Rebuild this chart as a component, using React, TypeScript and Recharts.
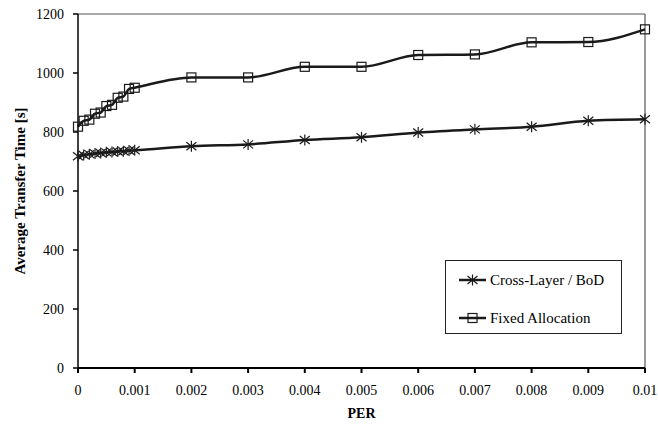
import React from "react";
import { LineChart, Line, XAxis, YAxis, ReferenceLine } from "recharts";

const per = [0, 0.0001, 0.0002, 0.0003, 0.0004, 0.0005, 0.0006, 0.0007, 0.0008, 0.0009, 0.001, 0.002, 0.003, 0.004, 0.005, 0.006, 0.007, 0.008, 0.009, 0.01];
const crossLayer = [718, 722, 725, 727, 729, 731, 732, 734, 735, 737, 738, 752, 758, 773, 782, 798, 809, 818, 838, 843];
const fixedAlloc = [818, 838, 842, 862, 866, 888, 892, 916, 920, 946, 950, 985, 985, 1021, 1021, 1061, 1063, 1104, 1105, 1148];
const xTicks = [0, 0.001, 0.002, 0.003, 0.004, 0.005, 0.006, 0.007, 0.008, 0.009, 0.01];
const yTicks = [0, 200, 400, 600, 800, 1000, 1200];
const seriesNames = ["Cross-Layer / BoD", "Fixed Allocation"];

const data = per.map((p, i) => ({ per: p, cross: crossLayer[i], fixed: fixedAlloc[i] }));

const FONT = "'Liberation Serif', 'Times New Roman', serif";
const INK = "#1a1a1a";

const StarDot = (props: any) => {
  const { cx, cy } = props;
  if (cx == null || cy == null) return null;
  return (
    <g stroke={INK} strokeWidth={1.2}>
      <line x1={cx - 5} y1={cy - 4} x2={cx + 5} y2={cy + 4} />
      <line x1={cx - 5} y1={cy + 4} x2={cx + 5} y2={cy - 4} />
      <line x1={cx} y1={cy - 5.5} x2={cx} y2={cy + 5.5} />
    </g>
  );
};

const SquareDot = (props: any) => {
  const { cx, cy } = props;
  if (cx == null || cy == null) return null;
  return <rect x={cx - 4.5} y={cy - 4.5} width={9} height={9} fill="none" stroke={INK} strokeWidth={1.2} />;
};

const LegendBox = () => (
  <div
    style={{
      position: "absolute",
      left: 445,
      top: 260,
      border: "1px solid #222",
      width: 177,
      height: 74,
      boxSizing: "border-box",
      background: "#fff",
      fontFamily: FONT,
      fontSize: 15,
      color: "#000",
      paddingTop: 9,
    }}
  >
    {seriesNames.map((name, i) => (
      <div key={name} style={{ display: "flex", alignItems: "center", height: 20, marginBottom: i === 0 ? 18 : 0, paddingLeft: 12 }}>
        <svg width={30} height={14} style={{ marginRight: 2 }}>
          <line x1={1} y1={7} x2={28} y2={7} stroke={INK} strokeWidth={2.5} />
          {i === 0 ? <StarDot cx={14.5} cy={7} /> : <SquareDot cx={14.5} cy={7} />}
        </svg>
        <span style={{ lineHeight: "20px" }}>{name}</span>
      </div>
    ))}
  </div>
);

const YTitle = (props: any) => {
  const vb = props.viewBox || {};
  const cy = (vb.y ?? 14) + (vb.height ?? 354) / 2;
  const cx = 20;
  return (
    <text
      x={cx}
      y={cy}
      transform={`rotate(-90 ${cx} ${cy})`}
      textAnchor="middle"
      dominantBaseline="central"
      fontFamily={FONT}
      fontSize={15}
      fontWeight="bold"
      fill="#000"
    >
      Average Transfer Time [s]
    </text>
  );
};

const XTitle = (props: any) => {
  const vb = props.viewBox || {};
  const cx = (vb.x ?? 78) + (vb.width ?? 567) / 2;
  const cy = (vb.y ?? 368) + 45;
  return (
    <text x={cx} y={cy} textAnchor="middle" dominantBaseline="central" fontFamily={FONT} fontSize={14} fontWeight="bold" fill="#000">
      PER
    </text>
  );
};

export default function App() {
  return (
    <div style={{ position: "absolute", left: 0, top: 0, width: 658, height: 427, background: "#fff" }}>
      <LineChart width={658} height={427} data={data} margin={{ top: 14, right: 13, bottom: 29, left: 0 }}>
        <XAxis
          dataKey="per"
          type="number"
          domain={[0, 0.01]}
          ticks={xTicks}
          tickFormatter={(v: number) => String(v)}
          height={30}
          stroke="#000"
          strokeWidth={2}
          tickSize={5}
          tickMargin={12}
          tick={{ fontFamily: FONT, fontSize: 14, fill: "#000" }}
          label={<XTitle />}
        />
        <YAxis
          type="number"
          domain={[0, 1200]}
          ticks={yTicks}
          width={78}
          stroke="#000"
          strokeWidth={1.5}
          tickSize={5}
          tickMargin={9}
          tick={{ fontFamily: FONT, fontSize: 14, fill: "#000" }}
          label={<YTitle />}
        />
        <ReferenceLine y={1200} stroke="#555" strokeWidth={1.2} />
        <ReferenceLine x={0.01} stroke="#555" strokeWidth={1.2} />
        <Line
          dataKey="fixed"
          name={seriesNames[1]}
          type="monotone"
          stroke={INK}
          strokeWidth={2.5}
          dot={<SquareDot />}
          activeDot={false}
          isAnimationActive={false}
        />
        <Line
          dataKey="cross"
          name={seriesNames[0]}
          type="monotone"
          stroke={INK}
          strokeWidth={2.5}
          dot={<StarDot />}
          activeDot={false}
          isAnimationActive={false}
        />
      </LineChart>
      <LegendBox />
    </div>
  );
}
